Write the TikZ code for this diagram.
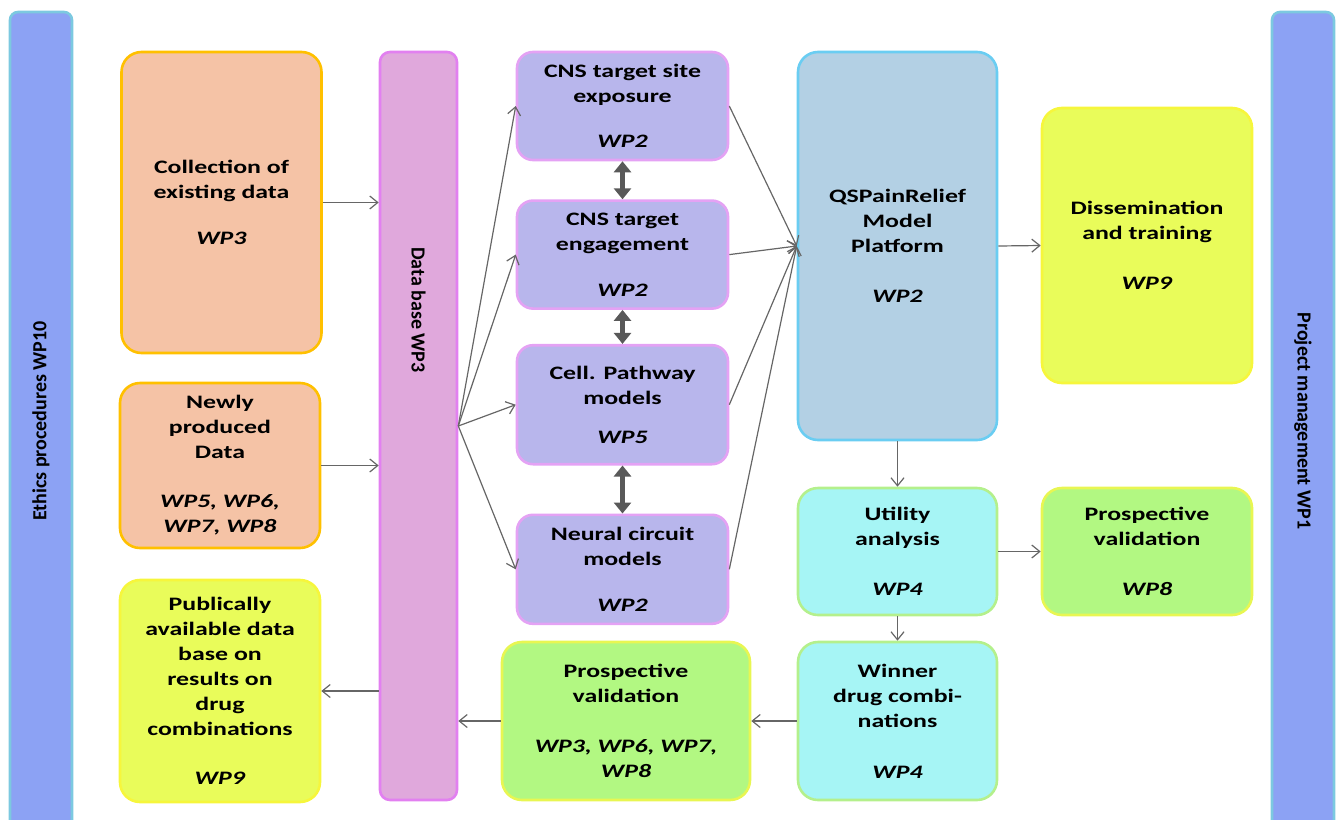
\documentclass[tikz,border=0pt]{standalone}
\usepackage{fontspec}
\setmainfont{Carlito}[FakeStretch=1.36]
\newfontfamily\sidefont{Carlito}
\usepackage{xcolor}
\usepackage{tikz}
\usetikzlibrary{arrows.meta,positioning}
\definecolor{barblue}{HTML}{8CA2F4}
\definecolor{baredge}{HTML}{7CC9E0}
\definecolor{salmonfill}{HTML}{F5C3A6}
\definecolor{salmonedge}{HTML}{FFC000}
\definecolor{lemonfill}{HTML}{E9FC5A}
\definecolor{lemonedge}{HTML}{F6F63C}
\definecolor{dbfill}{HTML}{E0A8DC}
\definecolor{dbedge}{HTML}{E280F0}
\definecolor{lavfill}{HTML}{B8B6EC}
\definecolor{lavedge}{HTML}{E4A2F4}
\definecolor{qsfill}{HTML}{B3D0E4}
\definecolor{qsedge}{HTML}{6ACDF2}
\definecolor{aquafill}{HTML}{A6F5F5}
\definecolor{aquaedge}{HTML}{B4F08C}
\definecolor{limefill}{HTML}{B2F882}
\definecolor{limeedge}{HTML}{E8F652}
\newcommand{\wpfont}{\bfseries\fontsize{19}{25}\selectfont}
\newcommand{\barfont}{\sidefont\bfseries\fontsize{20}{25}\selectfont}
\newcommand{\wpref}[1]{\textit{#1}}
\tikzset{
  wpbox/.style={
    rounded corners=20pt,
    line width=2.6pt,
    align=center,
    inner sep=0pt,
    font=\wpfont
  },
  sourcebox/.style={wpbox,draw=salmonedge,fill=salmonfill,minimum width=200pt},
  outbox/.style={wpbox,draw=lemonedge,fill=lemonfill},
  modelbox/.style={wpbox,draw=lavedge,fill=lavfill,minimum width=211pt,rounded corners=16pt},
  platformbox/.style={wpbox,draw=qsedge,fill=qsfill,minimum width=199pt},
  utilbox/.style={wpbox,draw=aquaedge,fill=aquafill,minimum width=199pt},
  validbox/.style={wpbox,draw=limeedge,fill=limefill},
  sidebar/.style={
    draw=baredge,
    fill=barblue,
    line width=2.6pt,
    rounded corners=8pt,
    minimum width=818pt,
    minimum height=62pt,
    font=\barfont
  },
  databar/.style={
    draw=dbedge,
    fill=dbfill,
    line width=2.6pt,
    rounded corners=10pt,
    minimum width=77pt,
    minimum height=748pt
  },
  dataflow/.style={-{Straight Barb[length=8pt,width=13pt]},line width=1.2pt,draw=black!60},
  linkflow/.style={
    {Triangle[length=11pt,width=17pt]}-{Triangle[length=11pt,width=17pt]},
    line width=4.5pt,
    draw=black!65
  }
}
\begin{document}
\begin{tikzpicture}[x=1pt,y=-1pt,node distance=34pt]
  \useasboundingbox (0,0) rectangle (1337,819);
  % work packages along the sides
  \node[sidebar,rotate=90] (ethics) at (41,421) {Ethics procedures WP10};
  \node[sidebar,rotate=-90] (mgmt) at (1303,421) {Project management WP1};
  % data sources and data base
  \node[sourcebox,minimum height=301pt] (collect) at (221.5,202.5) {Collection of\\existing data\\[21pt]\wpref{WP3}};
  \node[sourcebox,minimum height=165pt] (newdata) at (220,465.5) {Newly\\produced\\Data\\[24pt]\wpref{WP5, WP6,}\\\wpref{WP7, WP8}};
  \node[outbox,minimum width=200pt,minimum height=222pt] (public) at (220,691) {Publically\\available data\\base on\\results on\\drug\\combinations\\[24pt]\wpref{WP9}};
  \node[databar] (db) at (418.5,426) {};
  \node[rotate=-90,font=\barfont] (dblabel) at (418.5,310) {Data base WP3};
  % model column
  \node[modelbox,minimum height=108pt] (site) at (622.5,106) {CNS target site\\exposure\\[20pt]\wpref{WP2}};
  \node[modelbox,minimum height=108pt,below=38pt of site] (engage) {CNS target\\engagement\\[21pt]\wpref{WP2}};
  \node[modelbox,minimum height=119pt,below=34pt of engage] (pathway) {Cell. Pathway\\models\\[14pt]\wpref{WP5}};
  \node[modelbox,minimum height=109pt,below=48pt of pathway] (circuit) {Neural circuit\\models\\[21pt]\wpref{WP2}};
  % platform and results
  \node[platformbox,minimum height=388pt] (platform) at (897.5,246) {QSPainRelief\\Model\\Platform\\[25pt]\wpref{WP2}};
  \node[outbox,minimum width=210pt,minimum height=275pt] (dissem) at (1147,245.5) {Dissemination\\and training\\[25pt]\wpref{WP9}};
  \node[utilbox,minimum height=127pt] (utility) at (897.5,551.5) {Utility\\analysis\\[25pt]\wpref{WP4}};
  \node[validbox,minimum width=210pt,minimum height=127pt] (valideight) at (1147,551.5) {Prospective\\validation\\[25pt]\wpref{WP8}};
  \node[utilbox,minimum height=158pt] (winner) at (897.5,721) {Winner\\drug combi-\\nations\\[26pt]\wpref{WP4}};
  \node[validbox,minimum width=248pt,minimum height=158pt] (validall) at (626,721) {Prospective\\validation\\[25pt]\wpref{WP3, WP6, WP7,}\\\wpref{WP8}};
  % connectors
  \draw[dataflow] (collect.east) -- (collect.east -| db.west);
  \draw[dataflow] (newdata.east) -- (newdata.east -| db.west);
  \draw[dataflow] (db.west |- public.east) -- (public.east);
  \draw[dataflow] (db.east) -- (site.west);
  \draw[dataflow] (db.east) -- (engage.west);
  \draw[dataflow] (db.east) -- (pathway.west);
  \draw[dataflow] (db.east) -- (circuit.west);
  \draw[linkflow] (site.south) -- (engage.north);
  \draw[linkflow] (engage.south) -- (pathway.north);
  \draw[linkflow] (pathway.south) -- (circuit.north);
  \draw[dataflow] (site.east) -- (platform.west);
  \draw[dataflow] (engage.east) -- (platform.west);
  \draw[dataflow] (pathway.east) -- (platform.west);
  \draw[dataflow] (circuit.east) -- (platform.west);
  \draw[dataflow] (platform.east) -- (dissem.west);
  \draw[dataflow] (platform.south) -- (utility.north);
  \draw[dataflow] (utility.east) -- (valideight.west);
  \draw[dataflow] (utility.south) -- (winner.north);
  \draw[dataflow] (winner.west) -- (validall.east);
  \draw[dataflow] (validall.west) -- (validall.west -| db.east);
\end{tikzpicture}
\end{document}
